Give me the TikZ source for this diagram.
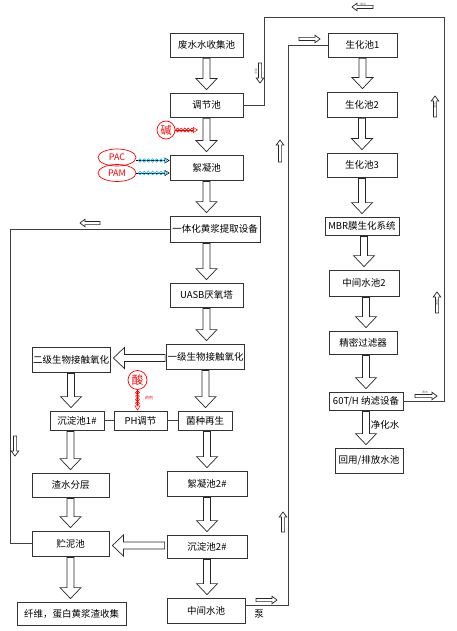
\documentclass[tikz,border=0pt]{standalone}
\usepackage{fontspec}
\setmainfont{Noto Sans CJK SC}
\usetikzlibrary{shapes.geometric, arrows.meta, positioning, calc}

\tikzset{
  box/.style={draw=black!80, line width=0.8pt, minimum height=24pt, inner sep=1pt, font=\fontsize{9.5}{11}\selectfont},
  blk/.style={draw=black!85, line width=0.7pt, fill=white},
  loopline/.style={draw=black!75, line width=0.8pt},
  lbl/.style={font=\fontsize{9.5}{11}\selectfont, inner sep=0pt},
  tinytxt/.style={font=\fontsize{3}{3}\selectfont, text=black!60, inner sep=0pt},
  chem/.style={draw=red, text=red, line width=0.7pt, inner sep=0pt, font=\fontsize{9}{10}\selectfont},
  dose/.style={line width=0.5pt, -{Triangle[open, length=5pt, width=6pt]}}
}

% hollow arrow: start, tip, shaft half, head half, head length
\newcommand{\hollowarrow}[5]{%
  \coordinate (ha) at ($(#2)!#5!(#1)$);
  \draw[blk] ($(#1)!#3!90:(#2)$) -- ($(ha)!#3!90:(#2)$) -- ($(ha)!#4!90:(#2)$) -- (#2)
    -- ($(ha)!#4!-90:(#2)$) -- ($(ha)!#3!-90:(#2)$) -- ($(#1)!#3!-90:(#2)$) -- cycle;}
\newcommand{\bigarrow}[2]{\hollowarrow{#1}{#2}{3.5pt}{10.5pt}{11pt}}
\newcommand{\smallarrow}[2]{\hollowarrow{#1}{#2}{1.6pt}{3.8pt}{5pt}}
% down arrow between two boxes, x taken from #1
\newcommand{\dnblk}[3]{%
  \coordinate (s) at ($(#2.south -| #1)+(0,1)$);
  \coordinate (t) at ($(#3.north -| #1)+(0,-3)$);
  \bigarrow{s}{t}}

\begin{document}
\begin{tikzpicture}[x=1pt, y=-1pt]
\useasboundingbox (0,0) rectangle (457,631);

% main column
\node[box, minimum width=73pt] (feishui) at (206.5,45) {废水水收集池};
\node[box, minimum width=73pt] (tiaojie) at (206.5,105) {调节池};
\node[box, minimum width=73pt, minimum height=25pt] (xuning) at (206.5,167.5) {絮凝池};
\node[box, minimum width=90pt, minimum height=26pt] (yiti) at (215,229) {一体化黄浆提取设备};
\node[box, minimum width=73pt] (uasb) at (206.5,295) {UASB厌氧塔};
\node[box, minimum width=77pt, minimum height=25pt] (yiji) at (205.5,356.5) {一级生物接触氧化};
\node[box, minimum width=54pt, minimum height=19pt] (junzhong) at (205,420.5) {菌种再生};
\node[box, minimum width=80pt, minimum height=25pt] (xuning2) at (207,483.5) {絮凝池2\#};
\node[box, minimum width=80pt, minimum height=23pt] (chendian2) at (207,546.5) {沉淀池2\#};
\node[box, minimum width=78pt, minimum height=25pt] (zhongjian) at (206,610.5) {中间水池};

% left column
\node[box, minimum width=78pt, minimum height=25pt] (erji) at (71,359.5) {二级生物接触氧化};
\node[box, minimum width=54pt, minimum height=19pt] (chendian1) at (77,420.5) {沉淀池1\#};
\node[box, minimum width=53pt, minimum height=19pt] (ph) at (140.5,420.5) {PH调节};
\node[box, minimum width=77pt] (zhashui) at (70.5,485) {渣水分层};
\node[box, minimum width=77pt, minimum height=25pt] (zhuni) at (70.5,543.5) {贮泥池};
\node[box, minimum width=109pt, minimum height=23pt] (xianwei) at (71.5,613.5) {纤维，蛋白黄浆渣收集};

% right column
\node[box, minimum width=69pt] (sh1) at (362.5,45) {生化池1};
\node[box, minimum width=70pt, minimum height=25pt] (sh2) at (362,104.5) {生化池2};
\node[box, minimum width=70pt] (sh3) at (362,165) {生化池3};
\node[box, minimum width=74pt, minimum height=18pt] (mbr) at (362,226) {MBR膜生化系统};
\node[box, minimum width=70pt, minimum height=26pt] (zj2) at (364,283) {中间水池2};
\node[box, minimum width=68pt, minimum height=23pt] (jingmi) at (363,342.5) {精密过滤器};
\node[box, minimum width=74pt, minimum height=18pt] (nf) at (366,401) {60T/H 纳滤设备};
\node[box, minimum width=68pt, minimum height=25pt] (huiyong) at (369,460.5) {回用/排放水池};
\node[lbl] (jinghua) at (385,425) {净化水};

% big arrows
\dnblk{feishui}{feishui}{tiaojie}
\dnblk{tiaojie}{tiaojie}{xuning}
\dnblk{xuning}{xuning}{yiti}
\dnblk{uasb}{yiti}{uasb}
\dnblk{uasb}{uasb}{yiji}
\dnblk{yiji}{yiji}{junzhong}
\dnblk{xuning2}{junzhong}{xuning2}
\dnblk{chendian2}{xuning2}{chendian2}
\dnblk{chendian2}{chendian2}{zhongjian}
\dnblk{erji}{erji}{chendian1}
\dnblk{zhashui}{chendian1}{zhashui}
\dnblk{zhashui}{zhashui}{zhuni}
\dnblk{zhuni}{zhuni}{xianwei}
\dnblk{sh1}{sh1}{sh2}
\dnblk{sh2}{sh2}{sh3}
\dnblk{sh3}{sh3}{mbr}
\dnblk{zj2}{mbr}{zj2}
\dnblk{nf}{zj2}{jingmi}
\dnblk{nf}{jingmi}{nf}
\dnblk{nf}{nf}{huiyong}

\coordinate (s) at ($(yiji.west)+(-1,1.5)$);
\coordinate (t) at ($(erji.east |- yiji.west)+(3,1.5)$);
\bigarrow{s}{t}
\coordinate (s) at ($(chendian2.west)+(-2,-1)$);
\coordinate (t) at ($(zhuni.east |- chendian2.west)+(3,-1)$);
\bigarrow{s}{t}

\draw[loopline] (chendian1) -- (ph);
\draw[loopline] (ph) -- (junzhong);

% sludge return on the left
\coordinate (lft) at (10,0);
\draw[loopline] (yiti.west) -| (lft |- zhuni.west) -- (zhuni.west);
\smallarrow{100,223}{80,223}
\smallarrow{15,436}{15,456}

% pump line
\coordinate (pump) at ($(zhongjian.east)+(0,-5)$);
\coordinate (rgt) at (288,0);
\draw[loopline] (pump) -| (rgt |- sh1.west) -- (sh1.west);
\node[lbl] (beng) at (259,614) {泵};
\smallarrow{256,600}{277,600}
\smallarrow{283,532}{283,512}
\smallarrow{280,162}{280,140}
\smallarrow{299,39}{320,39}

% concentrate return
\coordinate (tl) at (264,17);
\coordinate (tr) at (444,17);
\draw[loopline] (tiaojie.east) -| (tl) -- (tr) |- (nf.east);
\smallarrow{260,63}{260,83}
\smallarrow{373,7}{352,7}
\smallarrow{435,117}{435,96}
\smallarrow{437,313}{437,292}
\smallarrow{415,396}{437,396}
\node[tinytxt] at (363,4) {浓水};
\node[tinytxt, rotate=-90] at (256,72) {浓水};
\node[tinytxt, rotate=90] at (435,106) {浓水};
\node[tinytxt, rotate=90] at (437,302) {浓水};
\node[tinytxt] at (425,392.5) {浓水};

% dosing
\node[chem, circle, minimum size=18pt, font=\fontsize{11}{12}\selectfont] (jian) at (166,130) {碱};
\coordinate (jtip) at (198,130);
\draw[red, dose] (jian) -- (jtip);
\foreach \i in {0,...,4} \draw[red, line width=0.6pt] (177.5+3.6*\i,130) circle (1.9);

\node[chem, circle, minimum size=19pt, font=\fontsize{11.5}{12}\selectfont] (suan) at (137.5,380) {酸};
\draw[red, dose] (suan) -- (ph.north -| suan);
\foreach \i in {0,...,3} \draw[red, line width=0.6pt] (137.5,392.5+3.6*\i) circle (1.9);
\node[tinytxt, text=red, font=\fontsize{4}{4}\selectfont] (yaoji) at (149,398) {药剂};

\node[chem, ellipse, minimum width=38pt, minimum height=17pt] (pac) at (117,157.5) {PAC};
\node[chem, ellipse, minimum width=38pt, minimum height=17pt] (pam) at (117,173) {PAM};
\draw[dose] ($(pac.east)+(0,3)$) -- ($(xuning.west |- pac.east)+(0,3)$);
\draw[dose] (pam.east) -- (xuning.west |- pam.east);
\foreach \i in {0,...,6} {
  \draw[cyan, line width=0.5pt] (140+4.2*\i,160.5) circle (1.8);
  \draw[cyan, line width=0.5pt] (140+4.2*\i,173) circle (1.8);
}
\end{tikzpicture}
\end{document}
